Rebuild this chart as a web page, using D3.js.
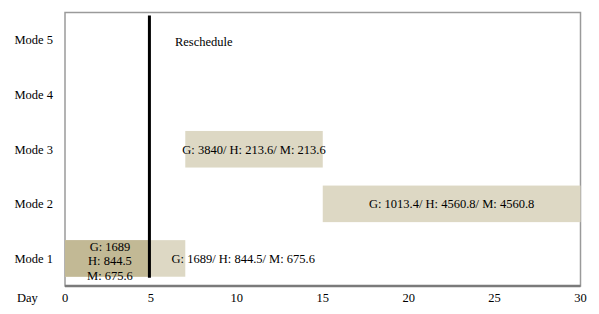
<!DOCTYPE html>
<html>
<head>
<meta charset="utf-8">
<script src="https://cdn.jsdelivr.net/npm/d3@7"></script>
<style>
  body { margin: 0; background: #fff; }
  text { font-family: "Liberation Serif", "Times New Roman", serif; font-size: 12.5px; fill: #000; }
</style>
</head>
<body>
<div id="chart"></div>
<script>
var modes = ["Mode 1", "Mode 2", "Mode 3", "Mode 4", "Mode 5"];
var dayTicks = [0, 5, 10, 15, 20, 25, 30];

// bars: mode, start day, end day
var barMode = ["Mode 1", "Mode 3", "Mode 2"];
var barStart = [0, 7, 15];
var barEnd = [7, 15, 30];
var barLabel = ["G: 1689/ H: 844.5/ M: 675.6", "G: 3840/ H: 213.6/ M: 213.6", "G: 1013.4/ H: 4560.8/ M: 4560.8"];

// completed part before reschedule
var doneMode = "Mode 1";
var doneStart = 0;
var doneEnd = 5;
var doneLines = ["G: 1689", "H: 844.5", "M: 675.6"];

var rescheduleDay = 5;

var width = 599, height = 314;
var margin = {left: 65, right: 18.5, top: 12.5, bottom: 28};

var svg = d3.select("#chart").append("svg")
    .attr("width", width)
    .attr("height", height);

var x = d3.scaleLinear().domain([0, 30]).range([margin.left, width - margin.right]);
var y = d3.scaleBand().domain(modes).range([height - margin.bottom, margin.top]).paddingInner(0.33).paddingOuter(0.17);

// plot frame
svg.append("rect")
    .attr("x", margin.left).attr("y", margin.top)
    .attr("width", x(30) - x(0)).attr("height", height - margin.bottom - margin.top)
    .attr("fill", "#fff").attr("stroke", "#9a9a9a").attr("stroke-width", 1.5);
svg.append("line")
    .attr("x1", margin.left).attr("x2", x(30))
    .attr("y1", height - margin.bottom).attr("y2", height - margin.bottom)
    .attr("stroke", "#7a7a7a").attr("stroke-width", 2.5);

var bars = barMode.map(function(m, i) {
  return {mode: m, start: barStart[i], end: barEnd[i], label: barLabel[i]};
});

svg.selectAll(".bar").data(bars).enter().append("rect")
    .attr("class", "bar")
    .attr("x", function(d) { return x(d.start); })
    .attr("y", function(d) { return y(d.mode); })
    .attr("width", function(d) { return x(d.end) - x(d.start); })
    .attr("height", y.bandwidth())
    .attr("fill", "#ddd8c4");

svg.append("rect")
    .attr("x", x(doneStart)).attr("y", y(doneMode))
    .attr("width", x(doneEnd) - x(doneStart)).attr("height", y.bandwidth())
    .attr("fill", "#c2b995");

svg.selectAll(".barlabel").data(bars).enter().append("text")
    .attr("class", "barlabel")
    .attr("x", function(d, i) { return i == 0 ? x(6.2) : (x(d.start) + x(d.end)) / 2; })
    .attr("y", function(d) { return y(d.mode) + y.bandwidth() / 2; })
    .attr("dy", "0.35em")
    .style("text-anchor", function(d, i) { return i == 0 ? "start" : "middle"; })
    .text(function(d) { return d.label; });

svg.selectAll(".donelabel").data(doneLines).enter().append("text")
    .attr("class", "donelabel")
    .attr("x", (x(doneStart) + x(doneEnd)) / 2 + 2)
    .attr("y", function(d, i) { return y(doneMode) + y.bandwidth() / 2 + 2.5 + (i - 1) * 14.5; })
    .attr("dy", "0.35em")
    .style("text-anchor", "middle")
    .text(function(d) { return d; });

// reschedule line
svg.append("line")
    .attr("x1", x(rescheduleDay) - 1.5).attr("x2", x(rescheduleDay) - 1.5)
    .attr("y1", margin.top + 3).attr("y2", y("Mode 1") + y.bandwidth() + 1)
    .attr("stroke", "#000").attr("stroke-width", 3);

svg.append("text")
    .attr("x", x(rescheduleDay) + 24).attr("y", y("Mode 5") + y.bandwidth() / 2 + 2)
    .attr("dy", "0.35em")
    .text("Reschedule");

// axis labels
svg.append("g").selectAll("text").data(modes).enter().append("text")
    .attr("x", 53)
    .attr("y", function(d) { return y(d) + y.bandwidth() / 2; })
    .attr("dy", "0.35em")
    .style("text-anchor", "end")
    .text(function(d) { return d; });

svg.append("g").selectAll("text").data(dayTicks).enter().append("text")
    .attr("x", function(d) { return x(d); })
    .attr("y", 298)
    .attr("dy", "0.35em")
    .style("text-anchor", "middle")
    .text(function(d) { return d; });

svg.append("text")
    .attr("x", 17).attr("y", 298).attr("dy", "0.35em")
    .text("Day");
</script>
</body>
</html>
